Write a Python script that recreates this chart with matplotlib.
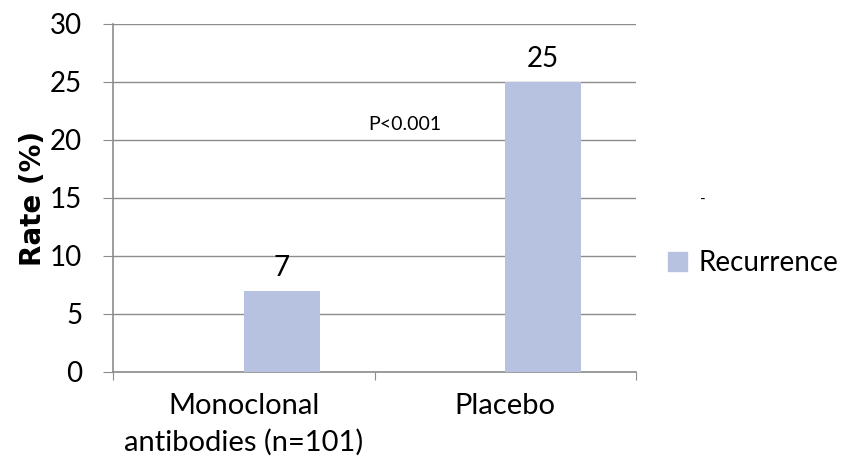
import matplotlib.pyplot as plt
from matplotlib.patches import Patch

categories = ["Monoclonal\nantibodies (n=101)", "Placebo"]
recurrence = [7, 25]
p_text = "P<0.001"

bar_color = "#B7C2E1"
grid_color = "#8C8C8C"

plt.rcParams['font.family'] = ['Lato', 'DejaVu Sans']

fig = plt.figure(figsize=(8.5, 4.68), dpi=100)
ax = fig.add_axes([113 / 850, 1 - 372 / 468, (636 - 113) / 850, (372 - 24) / 468])

x = list(range(len(categories)))
bars = ax.bar(x, recurrence, width=0.29, align='edge', color=bar_color, zorder=3)
for b, v in zip(bars, recurrence):
    ax.text(b.get_x() + b.get_width() / 2, v + 1.3, str(v), ha='center', va='baseline',
            fontsize=20)

ax.set_xlim(-0.5, len(categories) - 0.5)
ax.set_ylim(0, 30)
ax.set_yticks(range(0, 31, 5))
ax.tick_params(axis='y', labelsize=20, length=7.2, color=grid_color, pad=15)
ax.set_xticks([-0.5, 0.5, 1.5])
ax.set_xticklabels([])
ax.set_xticks(x, minor=True)
ax.set_xticklabels(categories, minor=True, fontsize=21, linespacing=1.45)
ax.tick_params(axis='x', which='major', length=6, color=grid_color)
ax.tick_params(axis='x', which='minor', length=0, pad=15)

ax.grid(axis='y', color=grid_color, linewidth=1, zorder=0)
for side in ['top', 'right']:
    ax.spines[side].set_visible(False)
for side in ['left', 'bottom']:
    ax.spines[side].set_color(grid_color)
    ax.spines[side].set_linewidth(1.2)

ax.set_ylabel("Rate (%)", fontsize=20, fontweight='bold', family='DejaVu Sans', labelpad=2)
ax.text(0.617, 20.9, p_text, ha='center', va='baseline', fontsize=14)

# empty series marker above the legend
fig.text(703 / 850, 1 - 200 / 468, "-", ha='center', va='center', fontsize=11)

handles = [Patch(color=bar_color, label="Recurrence")]
fig.legend(handles=handles, loc='center left', bbox_to_anchor=(668 / 850, 1 - 263 / 468),
           frameon=False, fontsize=20, handlelength=0.7, handleheight=0.7,
           handletextpad=0.4, borderpad=0, borderaxespad=0)

fig.savefig("out.png", dpi=100)
